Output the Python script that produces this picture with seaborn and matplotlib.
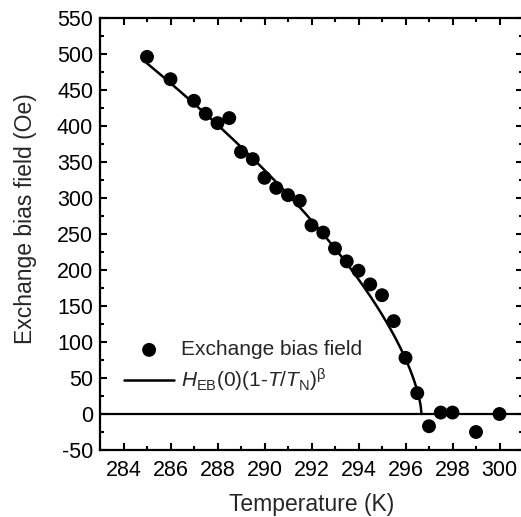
import numpy as np
import pandas as pd
import matplotlib
matplotlib.use("Agg")
import matplotlib.pyplot as plt
import seaborn as sns
from matplotlib.ticker import MultipleLocator

# Data
temperature = [285, 286, 287, 287.5, 288, 288.5, 289, 289.5, 290, 290.5, 291, 291.5,
               292, 292.5, 293, 293.5, 294, 294.5, 295, 295.5, 296, 296.5, 297,
               297.5, 298, 299, 300]
exchange_bias = [496, 465, 435, 417, 404, 411, 364, 354, 328, 314, 304, 296,
                 262, 252, 230, 212, 199, 180, 165, 129, 78, 29, -17,
                 2, 2, -25, 0]

# Fit parameters of H_EB(0)(1 - T/T_N)^beta
H0 = 3988.0
TN = 296.68
beta = 0.65
fit_T = np.linspace(285, TN, 400)
fit_H = H0 * np.clip(1 - fit_T / TN, 0, None) ** beta

x_ticks = [284, 286, 288, 290, 292, 294, 296, 298, 300]
y_ticks = [-50, 0, 50, 100, 150, 200, 250, 300, 350, 400, 450, 500, 550]

sns.set_theme(style="ticks")
plt.rcParams["font.family"] = ["Liberation Sans", "DejaVu Sans"]
plt.rcParams["mathtext.fontset"] = "custom"
plt.rcParams["mathtext.rm"] = "Liberation Sans"
plt.rcParams["mathtext.it"] = "Liberation Sans:italic"
plt.rcParams["mathtext.bf"] = "Liberation Sans:bold"
plt.rcParams["axes.unicode_minus"] = False

fs_tick = 15.5
fs_lab = 16.5
fs_leg = 15
fig = plt.figure(figsize=(5.21, 5.17), dpi=100)
ax = fig.add_axes([100 / 521, 67 / 517, 423 / 521, 432 / 517])

df_pts = pd.DataFrame({"T": temperature, "H": exchange_bias})
df_fit = pd.DataFrame({"T": fit_T, "H": fit_H})

ax.axhline(0, color="black", lw=1.6, zorder=1)
sns.lineplot(data=df_fit, x="T", y="H", ax=ax, color="black", lw=1.8,
             label=r"$\mathit{H}_{\rm EB}(0)(1$-$\mathit{T}/\mathit{T}_{\rm N})^{\mathrm{β}}$",
             zorder=2)
sns.scatterplot(data=df_pts, x="T", y="H", ax=ax, color="black", s=100,
                edgecolor="none", label="Exchange bias field", zorder=3)

ax.set_xlim(283, 301)
ax.set_ylim(-50, 550)
ax.set_xticks(x_ticks)
ax.set_yticks(y_ticks)
ax.xaxis.set_minor_locator(MultipleLocator(1))
ax.yaxis.set_minor_locator(MultipleLocator(25))
ax.tick_params(which="both", direction="in", top=True, right=True,
               width=1.5, labelsize=fs_tick, colors="black")
ax.tick_params(which="major", length=5)
ax.tick_params(axis="x", which="major", pad=7)
ax.tick_params(axis="y", which="major", pad=5)
ax.tick_params(which="minor", length=3)
for sp in ax.spines.values():
    sp.set_linewidth(1.6)
    sp.set_color("black")
    sp.set_visible(True)

ax.set_xlabel("Temperature (K)", fontsize=fs_lab, labelpad=9)
ax.set_ylabel("Exchange bias field (Oe)", fontsize=fs_lab)
ax.yaxis.set_label_coords(-0.15, 0.535)

handles, labels = ax.get_legend_handles_labels()
order = [1, 0]
ax.legend([handles[i] for i in order], [labels[i] for i in order],
          loc="lower left", bbox_to_anchor=(0.057, 0.13), frameon=False,
          fontsize=fs_leg, handlelength=2.4, handletextpad=0.33,
          labelspacing=0.35, borderpad=0, borderaxespad=0)

fig.savefig("out.png", dpi=100)
